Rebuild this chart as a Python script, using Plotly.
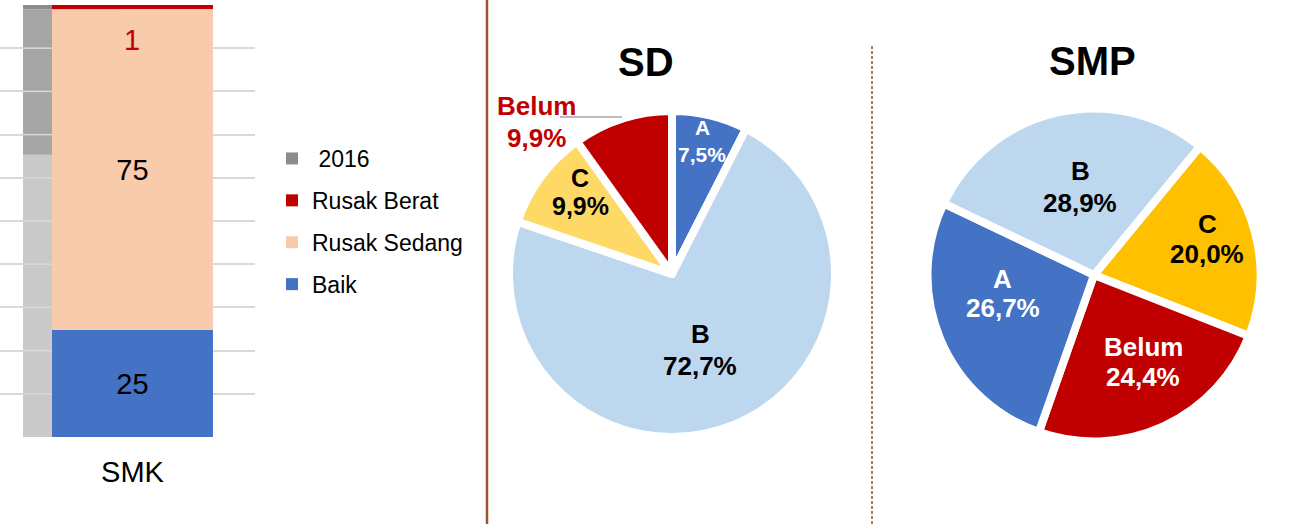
import plotly.graph_objects as go

# ---------------- data ----------------
bar_category = ["SMK"]
bar_series = ["Baik", "Rusak Sedang", "Rusak Berat"]
bar_values = [25, 75, 1]
bar_colors = ["#4472C4", "#F8CBAD", "#C00000"]

prev_name = "2016"
prev_values = [66, 34, 1]
prev_colors = ["#C9C9C9", "#A5A5A5", "#8C8C8C"]

sd_title = "SD"
sd_labels = ["A", "B", "C", "Belum"]
sd_values = [7.5, 72.7, 9.9, 9.9]
sd_colors = ["#4472C4", "#BDD7EE", "#FFD966", "#C00000"]
sd_text_colors = ["#FFFFFF", "#000000", "#000000", "#C00000"]

smp_title = "SMP"
smp_labels = ["C", "Belum", "A", "B"]
smp_values = [20.0, 24.4, 26.7, 28.9]
smp_colors = ["#FFC000", "#C00000", "#4472C4", "#BDD7EE"]
smp_text_colors = ["#000000", "#FFFFFF", "#FFFFFF", "#000000"]

# ---------------- layout constants (pixel positions of pie labels) ----------------
W, H = 1304, 524
FONT = "Liberation Sans, Arial, sans-serif"

# (x, y of label line, y of percent line, font size) per slice label
sd_label_pos = {
    "A": (702, 127, 154, 21),
    "B": (700, 334, 366, 26),
    "C": (580, 178, 206, 25),
    "Belum": (536, 106, 138, 26),
}
smp_label_pos = {
    "B": (1080, 171, 203, 26),
    "C": (1207, 224, 254, 26),
    "A": (1003, 279, 308, 26),
    "Belum": (1143, 347, 377, 26),
}


def fx(px):
    return px / W


def fy(py):
    return 1 - py / H


def pct(v, total):
    return f"{100 * v / total:.1f}".replace(".", ",") + "%"


fig = go.Figure()

# 2016 bars (behind)
for i, (v, c) in enumerate(zip(prev_values, prev_colors)):
    fig.add_trace(go.Bar(
        x=bar_category, y=[v], base=[sum(prev_values[:i])],
        width=0.6, offset=-0.68,
        marker=dict(color=c, line=dict(width=0)),
        name="\u00a0" + prev_name, legendgroup="g2016",
        showlegend=(i == len(prev_values) - 1),
        hoverinfo="skip",
    ))

# main stacked bars (added top-first so legend reads top-down)
for i in reversed(range(len(bar_values))):
    v = bar_values[i]
    show_text = bar_series[i] != "Rusak Berat"
    fig.add_trace(go.Bar(
        x=bar_category, y=[v], base=[sum(bar_values[:i])],
        width=1.0, offset=-0.5,
        marker=dict(color=bar_colors[i], line=dict(width=0)),
        name=bar_series[i], legendgroup=bar_series[i],
        text=[str(v)] if show_text else None,
        textposition="inside", insidetextanchor="middle",
        textangle=0, constraintext="none",
        textfont=dict(family=FONT, size=29, color="#000000"),
        hoverinfo="skip",
    ))

# pies
fig.add_trace(go.Pie(
    labels=sd_labels, values=sd_values, sort=False, direction="clockwise",
    rotation=0,
    marker=dict(colors=sd_colors, line=dict(color="#FFFFFF", width=8)),
    textinfo="none",
    domain=dict(x=[fx(509), fx(835)], y=[fy(437), fy(111)]),
    showlegend=False, hoverinfo="skip",
))

fig.add_trace(go.Pie(
    labels=smp_labels, values=smp_values, sort=False, direction="clockwise",
    rotation=39.5,
    marker=dict(colors=smp_colors, line=dict(color="#FFFFFF", width=8)),
    textinfo="none",
    domain=dict(x=[fx(927.5), fx(1260.5)], y=[fy(441.5), fy(108.5)]),
    showlegend=False, hoverinfo="skip",
))

total = sum(bar_values)
grid_step = total / 10
ib = bar_series.index("Rusak Berat")

center = dict(xanchor="center", yanchor="middle", showarrow=False,
              xref="paper", yref="paper")
annotations = [
    dict(x=bar_category[0], y=total, xref="x", yref="y", xanchor="center", yanchor="top",
         yshift=-17, text=str(bar_values[ib]), showarrow=False,
         font=dict(family=FONT, size=29, color="#C00000")),
    dict(x=fx(646), y=fy(62), text=f"<b>{sd_title}</b>",
         font=dict(family=FONT, size=40, color="#000000"), **center),
    dict(x=fx(1092), y=fy(61), text=f"<b>{smp_title}</b>",
         font=dict(family=FONT, size=40, color="#000000"), **center),
]

for labels, values, colors, pos in (
    (sd_labels, sd_values, sd_text_colors, sd_label_pos),
    (smp_labels, smp_values, smp_text_colors, smp_label_pos),
):
    tot = sum(values)
    for lab, val, col in zip(labels, values, colors):
        x, y1, y2, size = pos[lab]
        annotations.append(dict(x=fx(x), y=fy(y1), text=f"<b>{lab}</b>",
                                font=dict(family=FONT, size=size, color=col), **center))
        annotations.append(dict(x=fx(x), y=fy(y2), text=f"<b>{pct(val, tot)}</b>",
                                font=dict(family=FONT, size=size, color=col), **center))

shapes = [
    dict(type="line", xref="paper", yref="paper", x0=fx(487), x1=fx(487), y0=0, y1=1,
         line=dict(color="#A0522D", width=2.5)),
    dict(type="line", xref="paper", yref="paper", x0=fx(872), x1=fx(872), y0=0, y1=fy(44),
         line=dict(color="#A97A56", width=2, dash="3px,2px")),
    dict(type="line", xref="paper", yref="paper", x0=fx(560), x1=fx(622), y0=fy(117), y1=fy(117),
         line=dict(color="#A6A6A6", width=1.5)),
]
# gridlines visible across the 2016 bar
for k in range(1, 10):
    shapes.append(dict(type="line", xref="x", yref="y", x0=-0.68, x1=-0.5,
                       y0=grid_step * k, y1=grid_step * k, layer="above",
                       line=dict(color="#D9D9D9", width=1.5)))

fig.update_layout(
    width=W, height=H,
    margin=dict(l=0, r=0, t=0, b=0),
    paper_bgcolor="#FFFFFF", plot_bgcolor="#FFFFFF",
    barmode="overlay",
    font=dict(family=FONT, color="#000000"),
    xaxis=dict(domain=[0, fx(255)], range=[-0.823, 0.761], showgrid=False,
               zeroline=False, showline=False, ticks="",
               tickfont=dict(family=FONT, size=29, color="#000000"),
               ticklabelstandoff=15, fixedrange=True),
    yaxis=dict(domain=[fy(437), fy(5)], range=[0, total],
               tickvals=[grid_step * k for k in range(11)],
               showticklabels=False, showgrid=True, gridcolor="#D9D9D9",
               gridwidth=1.5, zeroline=False, showline=False, fixedrange=True),
    legend=dict(x=fx(272), y=fy(137), xanchor="left", yanchor="top",
                traceorder="grouped", tracegroupgap=9,
                font=dict(family=FONT, size=23, color="#000000"),
                bgcolor="rgba(0,0,0,0)"),
    annotations=annotations,
    shapes=shapes,
)

fig.write_html("out.html", config={"displayModeBar": False},
               post_script="document.body.style.margin='0px';")
